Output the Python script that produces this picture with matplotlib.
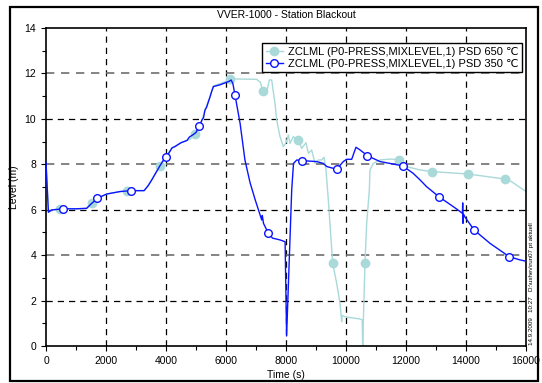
import numpy as np
import matplotlib
matplotlib.use("Agg")
import matplotlib.pyplot as plt
from matplotlib.patches import Rectangle

plt.rcParams['font.family'] = ['Liberation Sans', 'DejaVu Sans']

# ---- data: PSD 650 C (light teal) ----
t650 = [0, 80, 190, 467, 1000, 1350, 1522, 1711, 2020, 2470, 2689, 3270, 3400, 3520,
        3650, 3800, 3990, 4200, 4500, 4800, 4967, 5111, 5300, 5470, 5580, 5800, 6000,
        6133, 7022, 7150, 7222, 7300, 7378, 7444, 7522, 7633, 7689, 7800, 7911, 8000,
        8078, 8133, 8244, 8333, 8411, 8522, 8667, 8744, 8856, 8967, 9078, 9189, 9267,
        9333, 9411, 9556, 9689, 9800, 9856, 9870, 9967, 10133, 10467, 10540, 10556,
        10633, 10689, 10778, 10800, 10911, 11133, 11467, 11778, 12022, 12467, 12856,
        14078, 15300, 15500, 16000]
y650 = [8.1, 5.89, 5.99, 6.04, 6.04, 6.06, 6.31, 6.5, 6.69, 6.8, 6.82, 6.84, 7.05, 7.3,
        7.6, 7.94, 8.34, 8.72, 8.95, 9.1, 9.33, 9.6, 10.39, 10.98, 11.45, 11.55, 11.65,
        11.76, 11.74, 11.6, 11.24, 11.2, 11.3, 11.71, 11.71, 10.68, 9.95, 9.22, 8.78, 8.95,
        9.29, 8.92, 9.22, 9.1, 9.07, 8.7, 8.95, 8.48, 8.63, 8.04, 8.19, 8.19, 8.31,
        7.75, 6.43, 3.64, 2.76, 1.88, 1.07, 1.35, 1.29, 1.25, 1.19, 1.15, 0.04,
        3.64, 5.4, 6.87, 7.75, 8.04, 8.19, 8.23, 8.2, 7.9, 7.75, 7.68,
        7.57, 7.35, 7.25, 6.8]
mk650 = [467, 1522, 2689, 3800, 4967, 6133, 7222, 8411, 9556, 10633, 11778, 12856, 14078, 15300]

# ---- data: PSD 350 C (blue) ----
t350 = [0, 80, 190, 578, 1000, 1356, 1500, 1711, 2020, 2470, 2833, 3270, 3400, 3520,
        3650, 3800, 3990, 4100, 4200, 4300, 4500, 4700, 4780, 4900, 5000, 5111, 5200,
        5250, 5300, 5350, 5400, 5470, 5520, 5580, 5800, 6000, 6100, 6170, 6230, 6300,
        6470, 6630, 6800, 6970, 7190, 7210, 7250, 7411, 7550, 7800, 7970, 8020, 8190,
        8250, 8360, 8544, 9020, 9240, 9360, 9689, 9910, 10020, 10190, 10333, 10470,
        10711, 11133, 11578, 11889, 12240, 12470, 12690, 13100, 13690, 13880, 13890,
        13900, 13920, 13970, 14267, 14800, 15444, 15800, 15980, 16000]
y350 = [8.1, 5.89, 5.99, 6.04, 6.04, 6.06, 6.25, 6.5, 6.69, 6.8, 6.84, 6.84, 7.05, 7.3,
        7.6, 7.94, 8.34, 8.5, 8.72, 8.78, 8.95, 9.05, 9.2, 9.3, 9.4, 9.69, 9.95,
        10.05, 10.39, 10.5, 10.7, 10.98, 11.2, 11.42, 11.5, 11.6, 11.65, 11.71, 11.55, 11.05,
        9.8, 8.2, 7.2, 6.45, 5.55, 5.75, 5.4, 4.96, 4.75, 4.67, 4.59, 0.44, 6.87,
        8.04, 8.19, 8.16, 8.12, 8.04, 7.9, 7.78, 8.12, 8.22, 8.22, 8.75, 8.63,
        8.38, 8.12, 8.01, 7.93, 7.6, 7.31, 7.01, 6.57, 6.03, 5.84, 6.3,
        5.4, 5.8, 5.67, 5.11, 4.52, 3.93, 3.79, 3.74, 3.6]
mk350 = [578, 1711, 2833, 3990, 5111, 6300, 7411, 8544, 9689, 10711, 11889, 13100, 14267, 15444]

labels = ["ZCLML (P0-PRESS,MIXLEVEL,1) PSD 650 \u2103",
          "ZCLML (P0-PRESS,MIXLEVEL,1) PSD 350 \u2103"]
title = "VVER-1000 - Station Blackout"
xticks = [0, 2000, 4000, 6000, 8000, 10000, 12000, 14000, 16000]
yticks = [0, 2, 4, 6, 8, 10, 12, 14]

teal = '#a9d9d9'
blue = '#0a14ff'

fig = plt.figure(figsize=(5.42, 3.83), dpi=100)
ax = fig.add_axes([46/542, 1-346/383, 480/542, 318/383])

# grid
for x in xticks[1:-1]:
    ax.axvline(x, color='black', lw=0.9, dashes=(5, 4), zorder=0)
for y in yticks[1:-1]:
    c = '#6e6e6e' if y in (4, 8, 12) else 'black'
    ax.axhline(y, color=c, lw=0.9 if c == 'black' else 1.2, dashes=(5, 4), zorder=0)

t650a = np.array(t650); t350a = np.array(t350)
idx650 = [int(np.where(t650a == m)[0][0]) for m in mk650]
idx350 = [int(np.where(t350a == m)[0][0]) for m in mk350]

ax.plot(t650, y650, color=teal, lw=1.0, marker='o', markersize=6,
        markerfacecolor=teal, markeredgecolor=teal, markevery=idx650, label=labels[0], zorder=2)
ax.plot(t350, y350, color=blue, lw=1.0, marker='o', markersize=5.5,
        markerfacecolor='white', markeredgecolor=blue, markeredgewidth=1.0,
        markevery=idx350, label=labels[1], zorder=3)

ax.set_xlim(0, 16000)
ax.set_ylim(0, 14)
ax.set_xticks(xticks)
ax.set_yticks(yticks)
ax.set_xticks(np.arange(1000, 16000, 2000), minor=True)
ax.set_yticks(np.arange(1, 14, 2), minor=True)
ax.tick_params(axis='both', which='both', direction='out', labelsize=7.5, width=0.8)
ax.tick_params(which='major', length=3.5)
ax.tick_params(which='minor', length=3)
for s in ax.spines.values():
    s.set_linewidth(1.2)

ax.set_xlabel("Time (s)", fontsize=7.5, labelpad=3)
ax.set_ylabel("Level (m)", fontsize=7.5, labelpad=4)

leg = ax.legend(loc='upper right', bbox_to_anchor=(0.992, 0.953), borderaxespad=0,
                fontsize=8, fancybox=False, framealpha=1, edgecolor='black',
                handlelength=1.6, handletextpad=0.4, borderpad=0.35, labelspacing=0.15)
leg.get_frame().set_linewidth(1.0)

fig.text(286/542, 1-15/383, title, ha='center', va='center', fontsize=7.5)
fig.text(532/542, 1-345/383, "14.9.2009   10:27   D:\\ushev\\run07 pt aktuell",
         rotation=90, ha='center', va='bottom', fontsize=4.5)

fig.patches.append(Rectangle((10/542, 1-381/383), 528/542, 374/383, transform=fig.transFigure,
                             fill=False, edgecolor='black', lw=1.6))

fig.savefig("out.png", dpi=100)
